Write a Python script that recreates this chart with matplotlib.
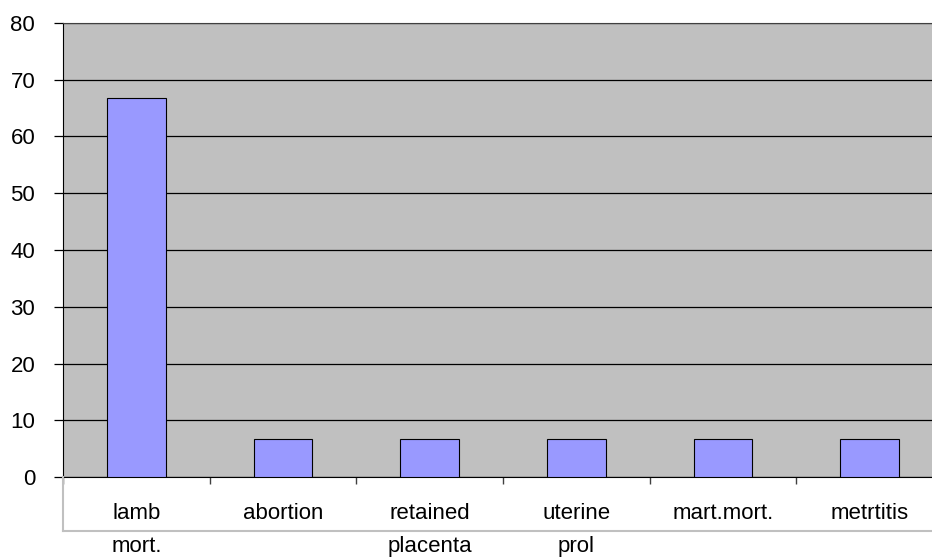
import matplotlib.pyplot as plt
from matplotlib.lines import Line2D
import numpy as np

# ── Data ───────────────────────────────────────────────────────────────────
categories = ['lamb\nmort.', 'abortion', 'retained\nplacenta', 'uterine\nprol',
              'mart.mort.', 'metrtitis']
values = [66.7, 6.7, 6.7, 6.7, 6.7, 6.7]
yticks = [0, 10, 20, 30, 40, 50, 60, 70, 80]

plt.rcParams['font.family'] = ['Liberation Sans', 'DejaVu Sans']

# ── Figure ─────────────────────────────────────────────────────────────────
fig = plt.figure(figsize=(9.32, 5.6), dpi=100)
fig.patch.set_facecolor('white')
# plot area runs a little past the right edge of the picture
ax = fig.add_axes([63 / 932, 1 - 477 / 560, 880 / 932, (477 - 23) / 560])
ax.set_facecolor('#C0C0C0')

x = np.arange(len(categories))
ax.bar(x, values, width=0.4, color='#9999FF', edgecolor='black',
       linewidth=0.8, zorder=3)

ax.set_xlim(-0.5, len(categories) - 0.5)
ax.set_ylim(0, 80)
ax.set_yticks(yticks)
ax.yaxis.grid(True, color='black', linewidth=0.9, zorder=1)
ax.set_axisbelow(True)

# category labels at centres, tick marks at boundaries
ax.set_xticks(x)
ax.set_xticklabels(categories, fontsize=16)
ax.set_xticks(np.arange(len(categories) + 1) - 0.5, minor=True)
ax.tick_params(axis='x', which='major', length=0, pad=18.5)
ax.tick_params(axis='x', which='minor', length=5, width=1, color='#404040',
               direction='out')
for lbl in ax.get_xticklabels():
    lbl.set_linespacing(1.75)

ax.tick_params(axis='y', length=6.5, width=0.9, pad=13.5, labelsize=16,
               direction='out')

ax.spines['right'].set_visible(False)
ax.spines['top'].set_color('#404040')
ax.spines['left'].set_color('black')
ax.spines['bottom'].set_color('black')

# light box around the category labels
fig.add_artist(Line2D([63 / 932, 63 / 932], [1 - 477 / 560, 1 - 531 / 560],
                      color='#C0C0C0', linewidth=1.5))
fig.add_artist(Line2D([63 / 932, 1], [1 - 531 / 560, 1 - 531 / 560],
                      color='#C0C0C0', linewidth=1.5))

plt.savefig('out.png', dpi=100, facecolor='white')
